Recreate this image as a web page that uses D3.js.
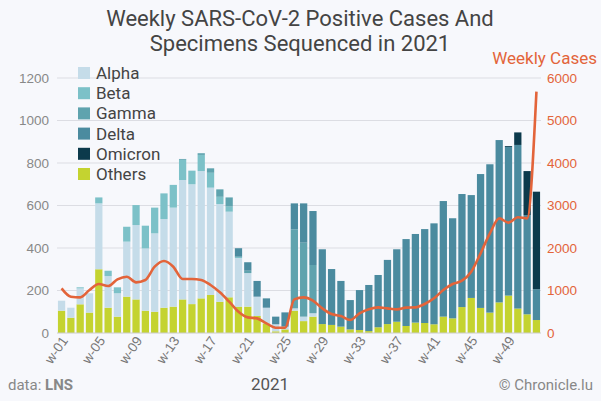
<!DOCTYPE html>
<html><head><meta charset="utf-8">
<script src="https://cdn.jsdelivr.net/npm/d3@7"></script>
<style>body{margin:0;background:#f7f8fc;}svg{display:block;font-family:Roboto,"DejaVu Sans",sans-serif;}</style>
</head><body><svg id="c" width="601" height="401"></svg>
<script>
const weeks = d3.range(1,53).map(i=>"w-"+String(i).padStart(2,"0"));
const others  = [105,72,135,96,300,119,77,171,158,105,100,119,124,158,136,163,179,147,168,124,124,80,45,8,17,105,56,77,42,38,30,17,14,9,27,42,53,33,49,47,41,77,69,122,165,118,96,144,176,115,88,61];
const alpha   = [47,47,75,91,310,149,110,259,350,293,369,417,466,562,564,599,505,460,403,229,158,91,74,33,13,11,21,16,0,0,0,0,0,0,0,0,0,0,0,0,0,0,0,0,0,0,0,0,0,0,0,0];
const beta    = [0,0,5,0,28,25,28,70,94,107,121,121,107,95,64,76,70,34,24,6,0,0,0,0,0,0,0,0,0,0,0,0,0,0,0,0,0,0,0,0,0,0,0,0,0,0,0,0,0,0,0,0];
const gamma   = [0,0,0,0,0,0,0,0,0,0,0,0,0,4,0,8,21,35,43,0,11,0,0,0,0,372,348,227,0,0,0,0,0,0,0,0,0,0,0,0,0,0,0,0,0,0,0,0,0,0,0,0];
const delta   = [0,0,0,0,0,0,0,0,0,0,0,0,0,0,0,0,0,0,0,40,40,74,44,36,67,122,185,254,352,263,215,138,188,217,246,302,341,409,417,442,475,544,471,532,484,630,698,764,700,770,467,145];
const omicron = [0,0,0,0,0,0,0,0,0,0,0,0,0,0,0,0,0,0,0,0,0,0,0,0,0,0,0,0,0,0,0,0,0,0,0,0,0,0,0,0,0,0,0,0,0,0,0,0,4,59,207,459];
const cases   = [1051,855,839,1011,1153,1105,1262,1325,1192,1247,1560,1694,1560,1270,1270,1247,1129,957,737,501,368,344,227,125,125,792,839,761,580,447,400,306,463,557,604,580,557,596,604,682,816,1012,1153,1231,1443,1875,2345,2698,2596,2722,2698,5678];
const leftTicks = [0,200,400,600,800,1000,1200];
const rightTicks = [0,1000,2000,3000,4000,5000,6000];
const seriesNames = ["Others","Alpha","Beta","Gamma","Delta","Omicron"];
const seriesData = [others,alpha,beta,gamma,delta,omicron];
const colors = {Others:"#c4d330",Alpha:"#c5dce9",Beta:"#7cc1c8",Gamma:"#5fa3ae",Delta:"#4b8b9f",Omicron:"#0c3a4c"};
const legendOrder = ["Alpha","Beta","Gamma","Delta","Omicron","Others"];

const svg = d3.select("#c");
const m = {l:57,r:541,t:78,b:333};
const x = d3.scaleBand().domain(weeks).range([m.l,m.r]).paddingInner(0.22).paddingOuter(0.1);
const y = d3.scaleLinear().domain([0,1200]).range([m.b,m.t]);
const y2 = d3.scaleLinear().domain([0,6000]).range([m.b,m.t]);

svg.append("g").selectAll("line").data(leftTicks.slice(1)).join("line")
 .attr("x1",m.l).attr("x2",m.r).attr("y1",d=>y(d)).attr("y2",d=>y(d)).attr("stroke","#dcdde3");

const table = weeks.map((w,i)=>{const o={w}; seriesNames.forEach((s,k)=>o[s]=seriesData[k][i]); return o;});
const stack = d3.stack().keys(seriesNames)(table);
svg.append("g").selectAll("g").data(stack).join("g").attr("fill",d=>colors[d.key])
 .selectAll("rect").data(d=>d).join("rect")
 .attr("x",d=>x(d.data.w)).attr("width",x.bandwidth())
 .attr("y",d=>y(d[1])).attr("height",d=>Math.max(0,y(d[0])-y(d[1])));

svg.append("line").attr("x1",m.l).attr("x2",m.r).attr("y1",m.b).attr("y2",m.b).attr("stroke","#ccc");

const line = d3.line().x((d,i)=>x(weeks[i])+x.bandwidth()/2).y(d=>y2(d)).curve(d3.curveMonotoneX);
svg.append("path").datum(cases).attr("d",line).attr("fill","none").attr("stroke","#e3643a").attr("stroke-width",2.6);

const la = svg.append("g").attr("transform",`translate(${m.l-5},0)`).call(d3.axisLeft(y).tickValues(leftTicks).tickFormat(d3.format("d")).tickSize(0));
la.select(".domain").remove();
la.selectAll("text").attr("fill","#888").attr("font-size",13.5);
const ra = svg.append("g").attr("transform",`translate(${m.r+3},0)`).call(d3.axisRight(y2).tickValues(rightTicks).tickFormat(d3.format("d")).tickSize(0));
ra.select(".domain").remove();
ra.selectAll("text").attr("fill","#e3643a").attr("font-size",13.5);

const xa = svg.append("g").attr("transform",`translate(0,${m.b})`)
 .call(d3.axisBottom(x).tickValues(weeks.filter((w,i)=>i%4===0)).tickSize(0));
xa.select(".domain").remove();
xa.selectAll("text").attr("fill","#777").attr("font-size",13.5).attr("text-anchor","end")
 .attr("transform","translate(3,5) rotate(-55)").attr("dx",0).attr("dy","0.35em").attr("y",0);

svg.append("text").attr("x",300).attr("y",26).attr("text-anchor","middle").attr("font-size",22).attr("fill","#444").text("Weekly SARS-CoV-2 Positive Cases And");
svg.append("text").attr("x",300).attr("y",51).attr("text-anchor","middle").attr("font-size",22).attr("fill","#444").text("Specimens Sequenced in 2021");
svg.append("text").attr("x",597).attr("y",64).attr("text-anchor","end").attr("font-size",17).attr("fill","#e3643a").text("Weekly Cases");
svg.append("text").attr("x",270).attr("y",390).attr("text-anchor","middle").attr("font-size",17).attr("fill","#555").text("2021");
const ds = svg.append("text").attr("x",8).attr("y",390).attr("font-size",15).attr("fill","#888");
ds.append("tspan").text("data: ");
ds.append("tspan").attr("font-weight","bold").text("LNS");
svg.append("text").attr("x",593).attr("y",390).attr("text-anchor","end").attr("font-size",15).attr("fill","#888").text("© Chronicle.lu");

const lg = svg.append("g").attr("transform","translate(78,65)");
legendOrder.forEach((s,i)=>{
 const g = lg.append("g").attr("transform",`translate(0,${i*20.2})`);
 g.append("rect").attr("width",12).attr("height",12).attr("y",2).attr("fill",colors[s]);
 g.append("text").attr("x",18).attr("y",14).attr("font-size",17).attr("fill","#444").text(s);
});
</script></body></html>
